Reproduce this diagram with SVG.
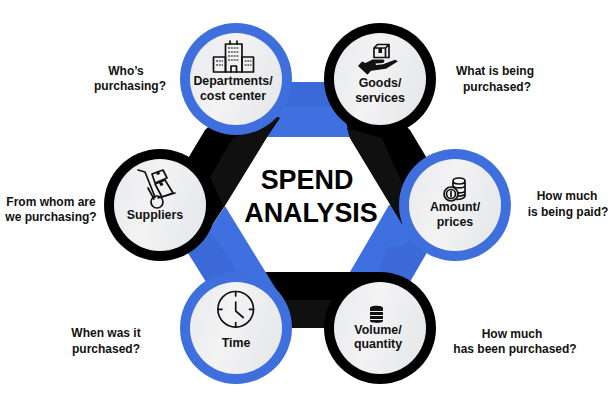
<svg xmlns="http://www.w3.org/2000/svg" width="612" height="408" viewBox="0 0 612 408">
<defs>
<linearGradient id="face" x1="0" y1="0" x2="1" y2="0.3"><stop offset="0" stop-color="#e9eaec"/><stop offset="0.5" stop-color="#f3f3f4"/><stop offset="1" stop-color="#e8e9eb"/></linearGradient>
</defs>
<style>
text{font-family:"Liberation Sans",Arial,sans-serif;font-weight:700;fill:#111;text-anchor:middle}
.lab{font-size:12.4px}
.q{font-size:12px}
.title{font-size:26.9px;fill:#000}
.face{fill:url(#face)}
.rb{fill:#3f6fdd}
.rk{fill:#000}
.blue{fill:#3f70e0}
.blue2{fill:#3b69d7}
.black{fill:#000}
.black2{fill:#101010}
.ic{fill:none;stroke:#111;stroke-width:1.7;stroke-linejoin:round;stroke-linecap:round}
.win{fill:none;stroke:#111;stroke-width:1.2;stroke-dasharray:2 .8}
.ick{fill:#111}
</style>
<rect width="612" height="408" fill="#fff"/>
<g id="connectors">
<rect class="blue" x="236" y="82" width="144" height="55"/>
<rect class="blue2" x="236" y="82" width="144" height="25"/>
<polygon class="blue" points="389,205 350,272 410,282 426,254 455,205 420,200"/>
<polygon class="blue2" points="388,247 402,247 426,225 426,254 410,280 376,276"/>
<rect class="black" x="262" y="272" width="118" height="56"/>
<rect class="black2" x="285" y="300" width="75" height="28"/>
<polygon class="black" points="280,118 267,137 224,207 205,236 160,205 205,130 236,100"/>
<polygon class="black2" points="278,118 233,138 210,177 224,207 267,137"/>
<polygon class="blue" points="225,206 287,307 290,328 236,335 205,280 180,240 207,233"/>
<polygon class="blue2" points="207,233 213,235 232,263 262,330 205,280 180,240"/>
<polygon class="black" points="345,118 380,100 410,130 455,205 402,224 350,138"/>
<polygon class="black2" points="347,128 382,138 405,190 402,224 350,138"/>
</g>
<g id="node-departments">
<circle class="rb" cx="236" cy="79" r="56"/><circle class="face" cx="236" cy="79" r="46"/>
<g class="ic">
<rect x="225.500" y="44" width="16.500" height="28"/><rect x="213.500" y="57" width="12" height="15"/><rect x="242" y="57" width="11.500" height="15"/>
<path d="M230 44v-3M237 44v-3M231 72v-6h5.500v6"/>
</g>
<path class="win" d="M228 48h11M228 52h11M228 56h11M228 60h11M216 61h7M216 65h7M244.500 61h7M244.500 65h7"/>
<text class="lab" x="233" y="85">Departments/</text><text class="lab" x="233" y="100">cost center</text>
</g>
<g id="node-goods">
<circle class="rk" cx="380" cy="79" r="56"/><circle class="face" cx="380" cy="79" r="46"/>
<g class="ic">
<path d="M374 48v9.500h15v-13h-11.500zM374 48h11.500l3.500-3.500M385.500 48v9.500"/>
</g>
<path class="ick" d="M378.500 48h3.500v5h-3.500z"/><path class="ick" d="M358 66l4-4.500 3.500 1.500 7-3.500h10.500c2 0 2 3-.5 3.500l-7 .6 .5 1.500 7-.8 12-4.500 3 1.500-12 7.500-15 2-3.500 4z"/>
<text class="lab" x="380" y="87">Goods/</text><text class="lab" x="380" y="102">services</text>
</g>
<g id="node-suppliers">
<circle class="rk" cx="160" cy="205" r="56"/><circle class="face" cx="160" cy="205" r="46"/>
<g class="ic">
<path d="M138 170l7 2 10 25M148 188l6 11M158 198l17-5"/>
<circle cx="157" cy="202" r="6"/>
<path d="M152 174l11-4 4 8-12 5zM155 184l10-4 8 13-11 4z"/>
</g>
<path class="ick" d="M156 172l3-1 1 3-3 1zM159 183l3-1 1.500 3-3 1z"/>
<text class="lab" x="155" y="219">Suppliers</text>
</g>
<g id="node-amount">
<circle class="rb" cx="455" cy="205" r="56"/><circle class="face" cx="455" cy="205" r="46"/>
<g class="ic">
<path d="M453 181c0-4 12-4 12 0s-12 4-12 0zM453 181v13M465 181v15c0 2-4 3.500-8 3.500M453 186c1 2.500 11 2.500 12 0M453 191c1 2.500 11 2.500 12 0M458 196c3 0 6 0 7-2"/>
<circle cx="451" cy="194" r="7" fill="#f0f0f2"/><circle cx="451" cy="194" r="4.500"/>
<path d="M451 191.500v5"/>
</g>
<text class="lab" x="455" y="211">Amount/</text><text class="lab" x="455" y="226">prices</text>
</g>
<g id="node-volume">
<circle class="rk" cx="380" cy="328" r="56"/><circle class="face" cx="380" cy="328" r="46"/>
<g>
<path class="ick" d="M370 308c0-3 13-3 13 0v3h-13zM370 312h13v3h-13zM370 316h13v3h-13zM370 320h13v1c0 2.500-13 2.500-13 0z"/>
</g>
<text class="lab" x="378" y="334">Volume/</text><text class="lab" x="378" y="348">quantity</text>
</g>
<g id="node-time">
<circle class="rb" cx="236" cy="328" r="56"/><circle class="face" cx="236" cy="328" r="46"/>
<g class="ic">
<circle cx="235.700" cy="309.300" r="17.800"/>
<path d="M235.700 291.500v4.500M235.700 322.500v4.500M218 309.300h4M249.500 309.300h4M235.700 302v9l7.500 6.500"/>
</g>
<text class="lab" x="236" y="347">Time</text>
</g>
<g id="title">
<text class="title" x="307" y="189">SPEND</text><text class="title" x="311" y="222">ANALYSIS</text>
</g>
<g id="questions">
<text class="q" x="126" y="75">Who’s</text><text class="q" x="130" y="90">purchasing?</text>
<text class="q" x="495" y="75">What is being</text><text class="q" x="497" y="91">purchased?</text>
<text class="q" x="567" y="200">How much</text><text class="q" x="568" y="216">is being paid?</text>
<text class="q" x="51" y="206">From whom are</text><text class="q" x="51" y="221">we purchasing?</text>
<text class="q" x="106" y="337">When was it</text><text class="q" x="106" y="353">purchased?</text>
<text class="q" x="512" y="338">How much</text><text class="q" x="515" y="353">has been purchased?</text>
</g>
</svg>
